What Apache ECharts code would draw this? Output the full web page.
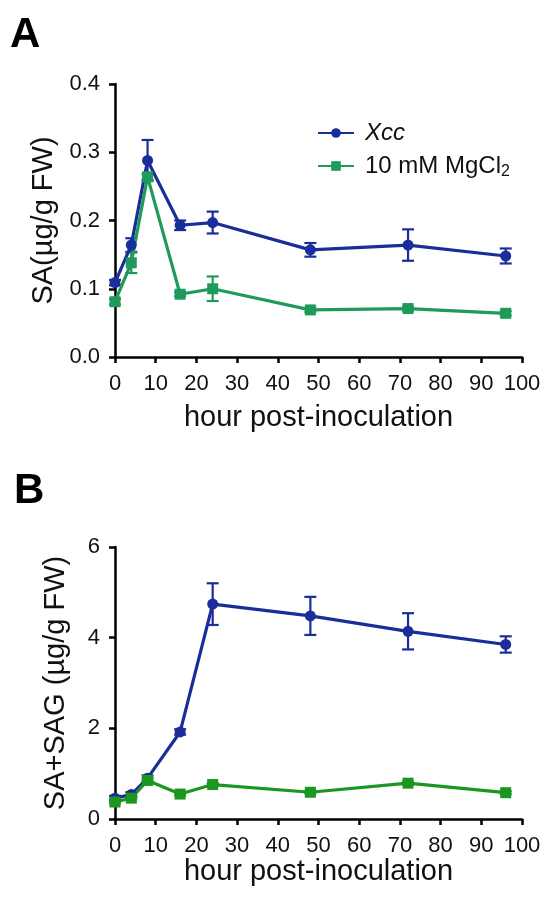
<!DOCTYPE html>
<html>
<head>
<meta charset="utf-8">
<script src="https://cdn.jsdelivr.net/npm/echarts@6/dist/echarts.min.js"></script>
<style>
html,body{margin:0;padding:0;background:#fff;}
#chart{width:544px;height:902px;}
</style>
</head>
<body>
<div id="chart"></div>
<script>
// ---- data ----
var hours = [0, 4, 8, 16, 24, 48, 72, 96];
var xTicks = [0, 10, 20, 30, 40, 50, 60, 70, 80, 90, 100];
var saXcc = [0.109, 0.164, 0.288, 0.193, 0.197, 0.157, 0.164, 0.148];
var saXccErr = [0.004, 0.010, 0.030, 0.007, 0.016, 0.010, 0.023, 0.011];
var saMg = [0.081, 0.138, 0.264, 0.092, 0.100, 0.069, 0.071, 0.064];
var saMgErr = [0.004, 0.015, 0.004, 0.003, 0.018, 0.003, 0.003, 0.003];
var totXcc = [0.46, 0.54, 0.90, 1.92, 4.74, 4.48, 4.14, 3.85];
var totXccErr = [0.05, 0.05, 0.06, 0.06, 0.46, 0.42, 0.40, 0.18];
var totMg = [0.375, 0.46, 0.85, 0.55, 0.76, 0.59, 0.79, 0.58];
var totMgErr = [0.03, 0.03, 0.05, 0.03, 0.03, 0.03, 0.03, 0.03];
var yTicksA = [0, 0.1, 0.2, 0.3, 0.4];
var yTicksB = [0, 2, 4, 6];
var seriesNames = ['Xcc', '10 mM MgCl2'];

var BLUE = '#1b2d9b';
var GREEN_A = '#1f9a5b';
var GREEN_B = '#1b971f';
var FONT = '"Liberation Sans", Arial, Helvetica, sans-serif';

function pairs(xs, ys) { return xs.map(function (x, i) { return [x, ys[i]]; }); }
function errData(xs, ys, es) { return xs.map(function (x, i) { return [x, ys[i] - es[i], ys[i] + es[i]]; }); }

function errSeries(data, color, gi) {
  return {
    type: 'custom', xAxisIndex: gi, yAxisIndex: gi, z: 1, silent: true,
    data: data,
    renderItem: function (params, api) {
      var x = api.value(0);
      var lo = api.coord([x, api.value(1)]);
      var hi = api.coord([x, api.value(2)]);
      var w = 6;
      var st = { stroke: color, lineWidth: 2.2 };
      return {
        type: 'group', children: [
          { type: 'line', shape: { x1: lo[0], y1: lo[1], x2: hi[0], y2: hi[1] }, style: st },
          { type: 'line', shape: { x1: lo[0] - w, y1: lo[1], x2: lo[0] + w, y2: lo[1] }, style: st },
          { type: 'line', shape: { x1: hi[0] - w, y1: hi[1], x2: hi[0] + w, y2: hi[1] }, style: st }
        ]
      };
    }
  };
}

function lineSeries(name, data, color, symbol, gi) {
  return {
    name: name, type: 'line', xAxisIndex: gi, yAxisIndex: gi, z: 3,
    data: data, symbol: symbol, symbolSize: 11,
    showSymbol: true, animation: false,
    lineStyle: { color: color, width: 3.2 },
    itemStyle: { color: color }
  };
}

function xAxisDef(gi, gap) {
  return {
    type: 'value', gridIndex: gi, min: xTicks[0], max: xTicks[xTicks.length - 1],
    interval: xTicks[1] - xTicks[0],
    name: 'hour post-inoculation', nameLocation: 'middle', nameGap: gap,
    nameTextStyle: { fontFamily: FONT, fontSize: 29, color: '#111' },
    axisLine: { show: true, onZero: false, lineStyle: { color: '#000', width: 2.5 } },
    axisTick: { show: true, inside: false, length: 6, lineStyle: { color: '#000', width: 2.5 } },
    axisLabel: { margin: 16, fontFamily: FONT, fontSize: 22, color: '#111' },
    splitLine: { show: false }
  };
}

function yAxisDef(gi, ticks, name, dec, gap) {
  return {
    type: 'value', gridIndex: gi, min: ticks[0], max: ticks[ticks.length - 1],
    interval: ticks[1] - ticks[0],
    name: name, nameLocation: 'middle', nameGap: gap, nameRotate: 90,
    nameTextStyle: { fontFamily: FONT, fontSize: 29, color: '#111' },
    axisLine: { show: true, onZero: false, lineStyle: { color: '#000', width: 2.5 } },
    axisTick: { show: true, inside: false, length: 6, lineStyle: { color: '#000', width: 2.5 } },
    axisLabel: { margin: 15, fontFamily: FONT, fontSize: 22, color: '#111',
      formatter: function (v) { return v.toFixed(dec); } },
    splitLine: { show: false }
  };
}

var chart = echarts.init(document.getElementById('chart'), null, { renderer: 'canvas' });
chart.setOption({
  animation: false,
  backgroundColor: '#fff',
  grid: [
    { left: 115, top: 84, width: 407, height: 273 },
    { left: 115, top: 547, width: 407, height: 272 }
  ],
  xAxis: [xAxisDef(0, 46), xAxisDef(1, 36)],
  yAxis: [
    yAxisDef(0, yTicksA, 'SA(\u00b5g/g FW)', 1, 57),
    yAxisDef(1, yTicksB, 'SA+SAG (\u00b5g/g FW)', 0, 45)
  ],
  legend: {
    data: seriesNames, orient: 'vertical', left: 312, top: 116,
    itemWidth: 36, itemHeight: 12, itemGap: 9,
    formatter: function (n) { return n === 'Xcc' ? '{i|Xcc}' : '{n|10 mM MgCl}{s|2}'; },
    textStyle: {
      fontFamily: FONT, fontSize: 24, color: '#111',
      rich: {
        i: { fontFamily: FONT, fontSize: 24, fontStyle: 'italic', color: '#111', padding: [0, 0, 0, 6] },
        n: { fontFamily: FONT, fontSize: 24, color: '#111', padding: [0, 0, 0, 6] },
        s: { fontFamily: FONT, fontSize: 16, color: '#111', padding: [12, 0, 0, 0] }
      }
    }
  },
  graphic: [
    { type: 'text', left: 10, top: 14, style: { text: 'A', font: 'bold 42px ' + FONT, fill: '#000' } },
    { type: 'text', left: 14, top: 470, style: { text: 'B', font: 'bold 42px ' + FONT, fill: '#000' } }
  ],
  series: [
    errSeries(errData(hours, saXcc, saXccErr), BLUE, 0),
    errSeries(errData(hours, saMg, saMgErr), GREEN_A, 0),
    lineSeries(seriesNames[0], pairs(hours, saXcc), BLUE, 'circle', 0),
    lineSeries(seriesNames[1], pairs(hours, saMg), GREEN_A, 'rect', 0),
    errSeries(errData(hours, totXcc, totXccErr), BLUE, 1),
    errSeries(errData(hours, totMg, totMgErr), GREEN_B, 1),
    lineSeries('Xcc (SA+SAG)', pairs(hours, totXcc), BLUE, 'circle', 1),
    lineSeries('MgCl2 (SA+SAG)', pairs(hours, totMg), GREEN_B, 'rect', 1)
  ]
});
</script>
</body>
</html>
